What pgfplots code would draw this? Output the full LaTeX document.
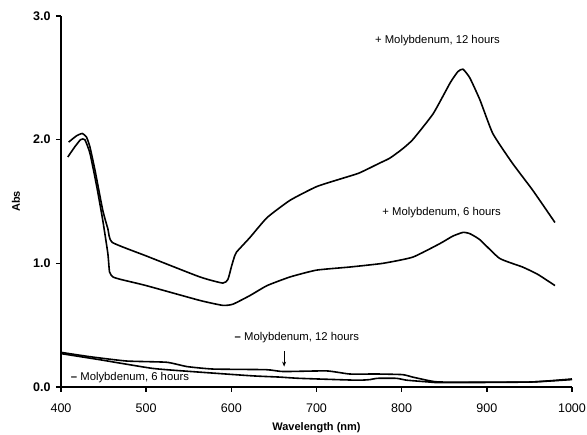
\documentclass[border=0pt]{standalone}
\usepackage{fontspec}
\setmainfont{Liberation Sans}
\usepackage{pgfplots}
\pgfplotsset{compat=1.18}
\usetikzlibrary{arrows.meta}

% absorbance spectra, +/- molybdenum
\pgfplotstableread{
x y
409 1.98
418 2.03
425 2.05
430 2.02
434 1.94
440 1.75
449 1.43
455 1.28
460 1.17
500 1.06
563 0.89
590 0.84
596 0.87
600 0.97
603 1.04
606 1.09
622 1.21
642 1.37
669 1.51
700 1.62
727 1.68
750 1.73
774 1.81
786 1.85
800 1.92
813 2.00
837 2.21
857 2.46
866 2.55
872 2.57
880 2.50
892 2.32
907 2.05
930 1.81
954 1.59
980 1.33
}\moTwelve

\pgfplotstableread{
x y
408 1.86
416 1.94
423 2.00
428 2.00
434 1.89
442 1.62
449 1.35
455 1.08
457 0.93
461 0.89
470 0.87
500 0.82
563 0.70
590 0.66
602 0.67
622 0.74
642 0.82
669 0.89
700 0.945
739 0.97
778 1.00
813 1.05
845 1.16
860 1.22
872 1.25
880 1.24
892 1.19
915 1.04
942 0.97
960 0.91
980 0.82
}\moSix

\pgfplotstableread{
x y
400 0.28
434 0.245
477 0.21
524 0.20
548 0.165
579 0.145
641 0.14
661 0.125
712 0.13
739 0.105
771 0.105
801 0.10
813 0.08
833 0.05
848 0.04
950 0.04
1000 0.065
}\noMoTwelve

\pgfplotstableread{
x y
400 0.27
446 0.22
508 0.15
563 0.12
625 0.09
657 0.08
680 0.07
747 0.055
763 0.06
771 0.07
794 0.07
806 0.055
833 0.04
848 0.035
950 0.04
1000 0.06
}\noMoSix

\begin{document}
\begin{tikzpicture}
\useasboundingbox (-61pt,-48pt) rectangle (526pt,387pt);
\begin{axis}[
    scale only axis,
    width=511pt,
    height=371pt,
    xmin=400, xmax=1000,
    ymin=0, ymax=3,
    axis x line=bottom,
    axis y line=left,
    axis line style={-, line width=1.8pt},
    xtick={400,500,...,1000},
    ytick={0,1,2,3},
    tick align=outside,
    major tick length=5pt,
    tick style={line width=1.5pt, black},
    /pgf/number format/assume math mode=true,
    /pgf/number format/1000 sep={},
    yticklabel style={font=\fontsize{12.5}{14}\selectfont\bfseries, xshift=-2pt,
        /pgf/number format/fixed, /pgf/number format/precision=1,
        /pgf/number format/fixed zerofill},
    xticklabel style={font=\fontsize{12.5}{14}\selectfont, yshift=-8pt},
    xlabel={\textbf{Wavelength (nm)}},
    ylabel={\textbf{Abs}},
    xlabel style={font=\fontsize{11}{13}\selectfont, at={(axis description cs:0.5,-0.1105)}, anchor=center},
    ylabel style={font=\fontsize{11}{13}\selectfont, at={(axis description cs:-0.088,0.5)}, anchor=center},
    clip=false,
]
\addplot[black, line width=1.6pt, smooth, tension=0.3, no marks] table {\moTwelve};
\addplot[black, line width=1.6pt, smooth, tension=0.3, no marks] table {\moSix};
\addplot[black, line width=1.6pt, smooth, tension=0.3, no marks] table {\noMoTwelve};
\addplot[black, line width=1.6pt, smooth, tension=0.3, no marks] table {\noMoSix};

\draw[-{Stealth[length=5pt,width=4pt]}, line width=1pt] (axis cs:662,0.29) -- (axis cs:662,0.165);

\node[font=\fontsize{11.3}{13}\selectfont] at (axis cs:842,2.80) {+ Molybdenum, 12 hours};
\node[font=\fontsize{11.3}{13}\selectfont] at (axis cs:847,1.41) {+ Molybdenum, 6 hours};
\node[font=\fontsize{11.3}{13}\selectfont] at (axis cs:677,0.40) {\textbf{--} Molybdenum, 12 hours};
\node[font=\fontsize{11.3}{13}\selectfont] at (axis cs:481,0.08) {\textbf{--} Molybdenum, 6 hours};
\end{axis}
\end{tikzpicture}
\end{document}
